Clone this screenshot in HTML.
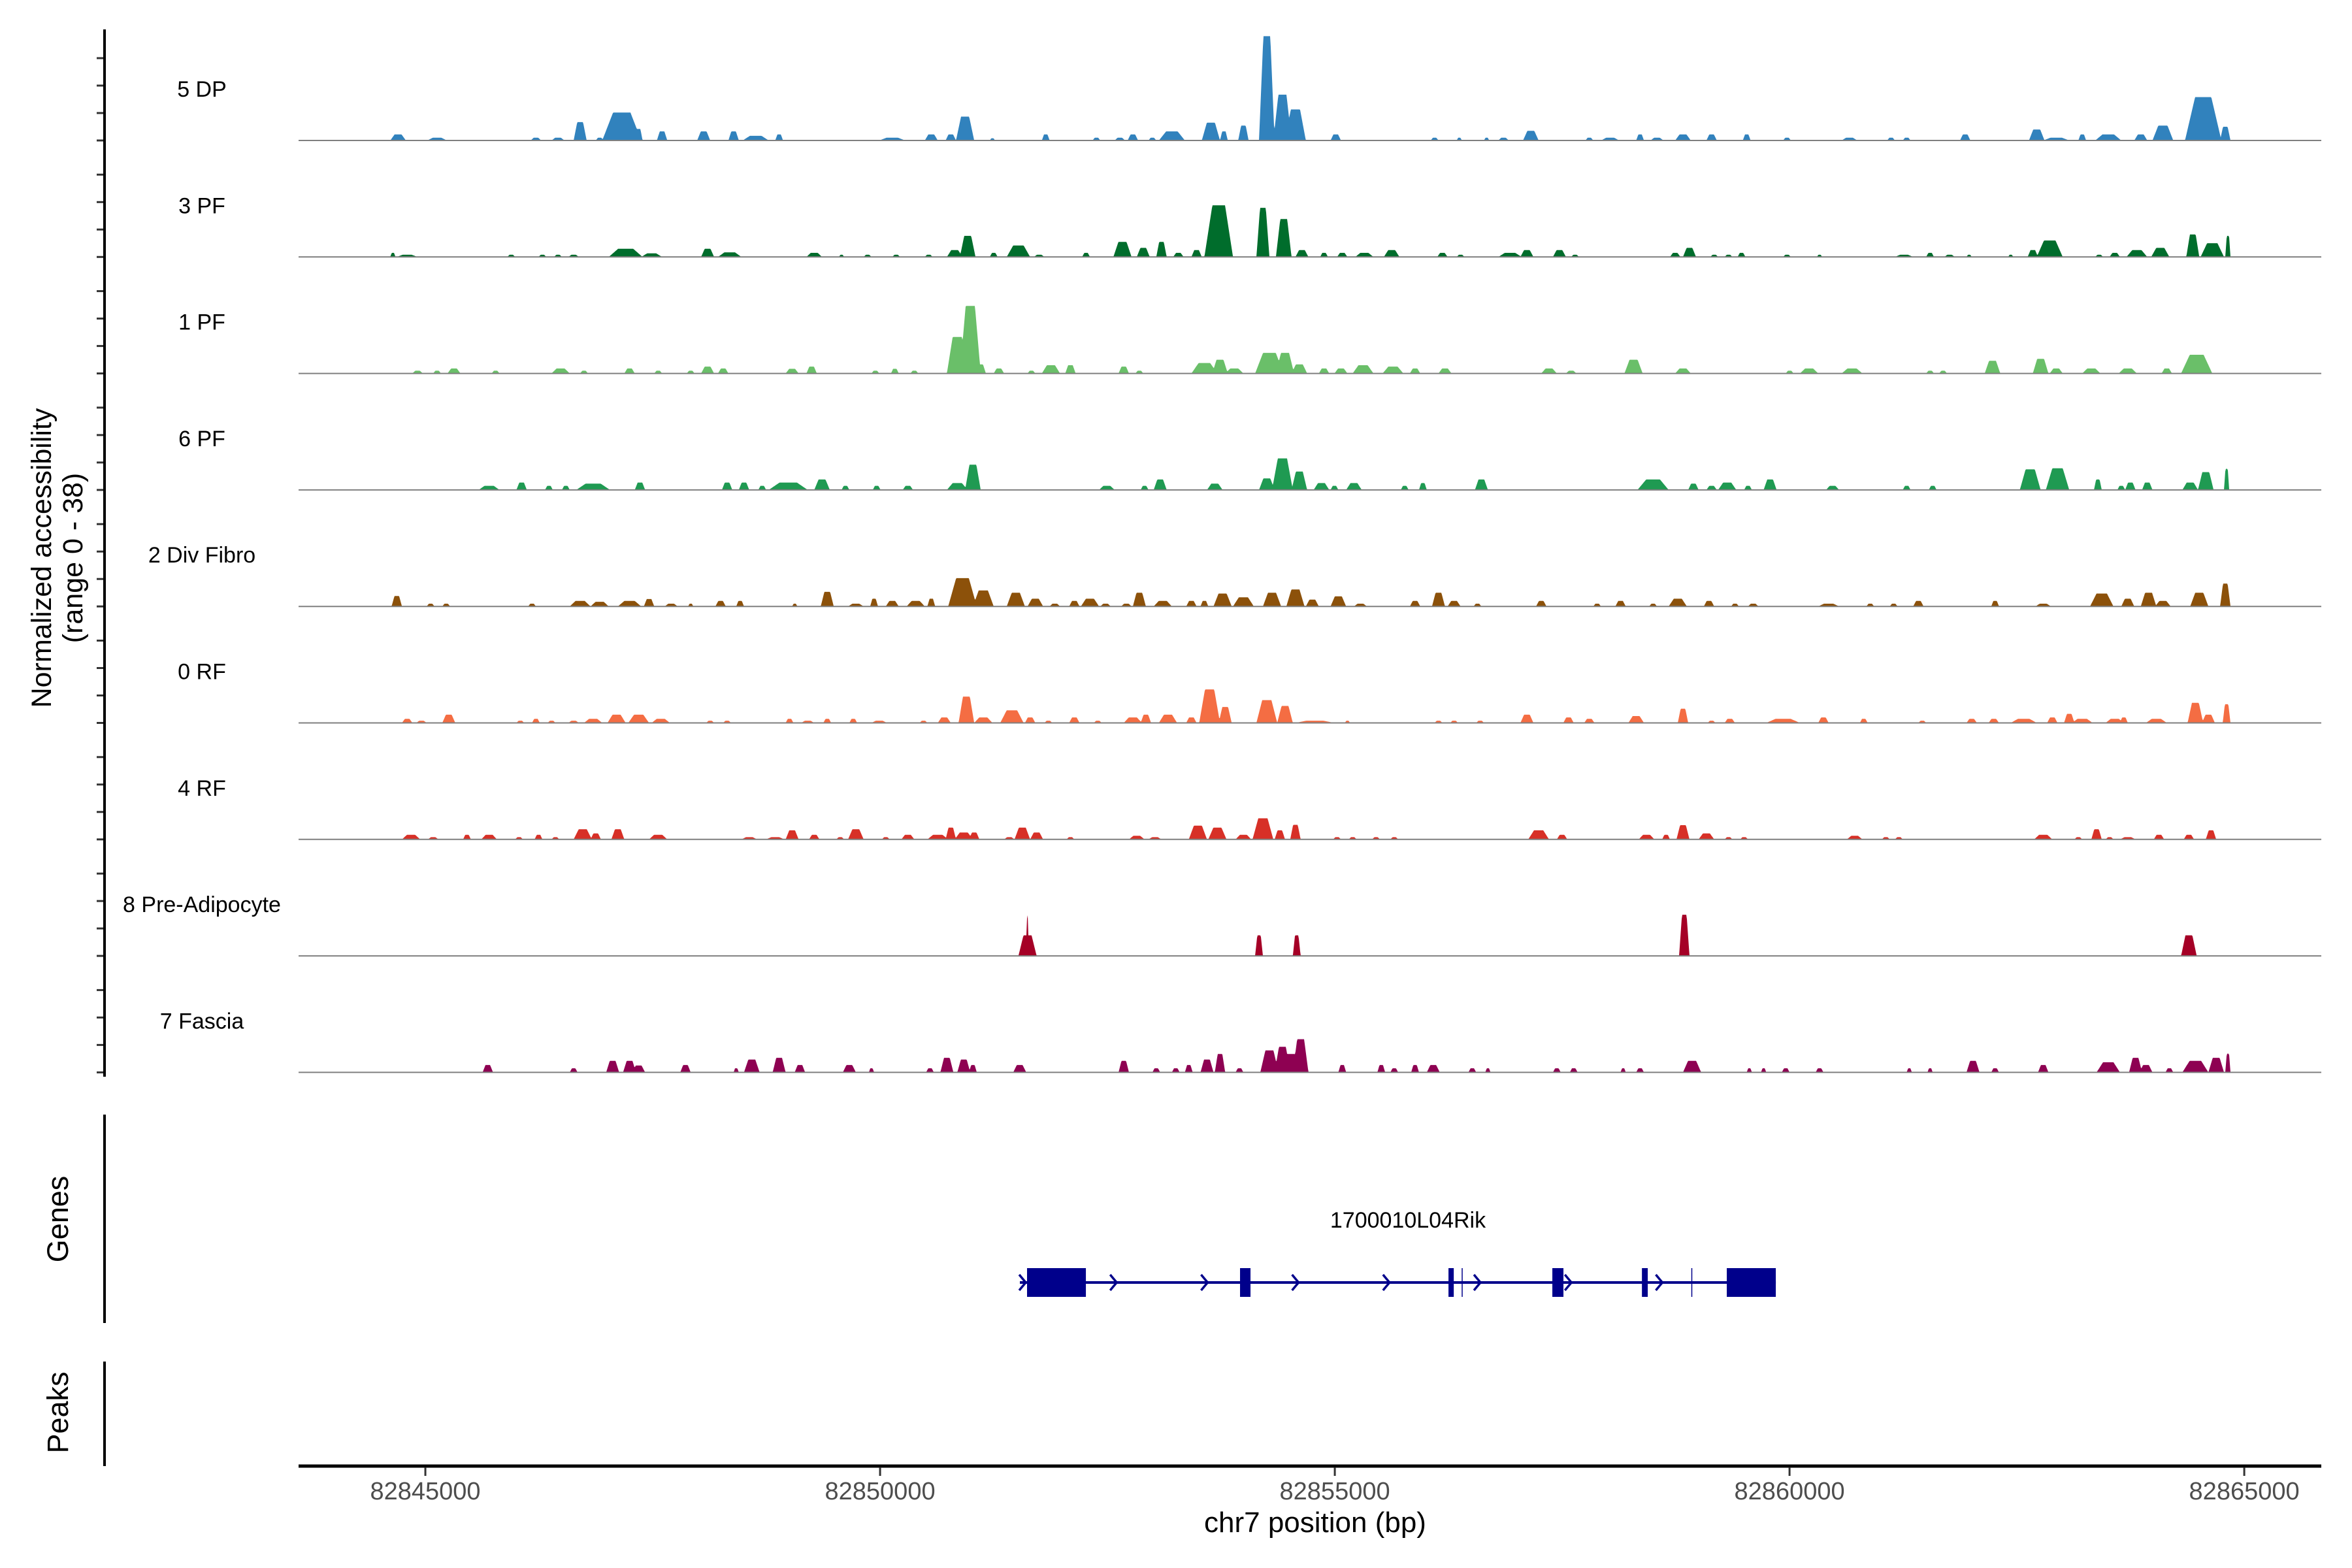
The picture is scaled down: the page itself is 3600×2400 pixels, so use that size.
<!DOCTYPE html>
<html><head><meta charset="utf-8">
<style>
html,body{margin:0;padding:0;background:#fff;}
svg{display:block;font-family:"Liberation Sans",Arial,sans-serif;}
</style></head>
<body>
<svg id="chart" width="3600" height="2400" viewBox="0 0 3600 2400" xmlns="http://www.w3.org/2000/svg">
<rect x="0" y="0" width="3600" height="2400" fill="#fff"/>
<g id="tracks"></g>
<g id="axes"></g>
<g id="genes"></g>
<text x="0" y="0" transform="translate(78,854) rotate(-90)" text-anchor="middle" font-size="43" fill="#000">Normalized accessibility</text>
<text x="0" y="0" transform="translate(126,854) rotate(-90)" text-anchor="middle" font-size="43" fill="#000">(range 0 - 38)</text>
<text x="0" y="0" transform="translate(104,1866) rotate(-90)" text-anchor="middle" font-size="45" fill="#000">Genes</text>
<text x="0" y="0" transform="translate(104,2162) rotate(-90)" text-anchor="middle" font-size="45" fill="#000">Peaks</text>
<text x="2013" y="2345" text-anchor="middle" font-size="44" fill="#000">chr7 position (bp)</text>
<text x="2155" y="1879" text-anchor="middle" font-size="34" fill="#000">1700010L04Rik</text>
</svg>
<script>
// ---- region / axis data ----
const regionStart = 82843556;   // bp at bin 0
const binSize = 14.3;           // bp per coverage bin
const xTicks = [82845000, 82850000, 82855000, 82860000, 82865000];
const xTickLabels = ["82845000", "82850000", "82855000", "82860000", "82865000"];
const yRangeMax = 38;
const yTickValues = [0, 10, 20, 30];
const trackNames = ["5 DP", "3 PF", "1 PF", "6 PF", "2 Div Fibro", "0 RF", "4 RF", "8 Pre-Adipocyte", "7 Fascia"];
const trackColors = ["#3182bd", "#006d2c", "#6abf69", "#1f9a52", "#8c510a", "#f46d43", "#d73027", "#a50026", "#8e0152"];

// ---- coverage peaks per track: bin index, accessibility value, width in bins ----
const dpBins = [80,110,186,203,220,235,252,265,283,315,338,355,373,460,490,505,516,537,578,617,635,645,660,675,705,715,730,748,760,770,801,877,896,917,930,951,996,1012,1035,1048,1068,1090,1117,1148,1196,1228,1240,1285,1340,1355,1375,1395,1420,1437,1468,1485];
const dpVals = [2.2,1,1,1,6.7,1,10.2,4.2,3.3,3.3,3.3,1.7,2.2,1,2.2,2.2,8.7,0.8,2.2,1,1,2.2,1,3.3,6.5,3.3,5.4,38,16.7,11.3,2.2,1,1,1,1,3.5,1,1,2.2,1,2.2,2.2,2.2,1,1,1,1,2.2,4,1,2.2,2.2,2.2,5.4,15.8,5];
const dpWidths = [12,15,8,10,10,6,30,6,8,10,8,20,6,20,10,8,14,4,6,6,8,8,6,20,14,6,8,12,14,16,8,6,4,4,8,12,6,14,6,10,12,8,6,6,12,6,6,8,12,20,6,20,10,16,28,8];

const pf3Bins = [76,87,167,191,203,215,255,275,318,335,400,421,441,463,488,508,518,538,557,573,609,637,653,667,680,694,711,745,761,775,792,806,823,844,883,897,935,948,973,985,1062,1073,1092,1103,1113,1148,1173,1238,1258,1273,1288,1320,1337,1350,1388,1400,1417,1435,1460,1475,1487];
const pf3Vals = [1.5,.8,.8,.8,.8,.8,3,1.3,3,1.7,1.5,.8,.8,.8,.8,2.5,7.7,1.5,4.2,.8,1.5,5.5,3.3,5.5,1.5,2.5,18.8,17.9,13.8,2.5,1.5,1.5,1.5,2.5,1.5,.8,1.5,2.5,2.5,.8,1.5,3.3,.8,.8,1.5,.8,.8,.8,1.5,.8,.8,.8,2.5,6,.8,1.5,2.5,3.3,8.2,5,7.7];
const pf3Widths = [4,16,6,6,6,8,26,16,10,18,12,4,6,6,6,12,12,6,18,8,6,14,10,8,8,8,22,10,12,10,6,8,14,12,8,6,18,10,10,6,8,10,6,6,6,6,4,14,6,8,4,4,8,20,6,8,16,14,10,18,4];

const pf1Bins = [95,110,123,155,205,223,258,280,305,318,330,383,398,447,462,477,510,520,528,542,567,582,597,638,650,700,712,723,750,762,773,792,805,822,845,862,885,965,982,1030,1068,1150,1165,1198,1258,1268,1306,1343,1355,1382,1410,1440,1463];
const pf1Vals = [1,1,1.8,1,1.8,1,1.8,1,1,2.5,1.8,1.7,2.5,1,1.7,1,13.3,24.6,3.3,1.8,1,3,3,2.5,1,3.8,5,1.8,7.5,7.5,3.3,1.8,1.8,3,2.5,1.8,1.8,1.8,1,5,1.8,1,1.8,1.8,1,1,4.6,5.3,1.8,1.8,1.8,1.8,6.8];
const pf1Widths = [8,6,10,6,14,6,8,6,6,10,8,10,8,6,6,6,16,16,8,8,6,14,8,8,6,20,12,14,22,14,12,8,10,16,16,8,10,12,8,14,12,6,14,16,6,6,12,12,10,14,14,8,24];

const pf6Bins = [150,175,196,209,230,266,333,346,360,380,406,424,448,472,510,522,625,654,666,708,748,760,773,790,800,815,854,868,913,1045,1076,1090,1102,1118,1135,1183,1240,1260,1335,1356,1387,1405,1412,1425,1458,1470,1486];
const pf6Vals = [1.5,2.7,1.5,1.5,2.3,2.7,2.7,2.7,1.5,2.7,3.8,1.5,1.5,1.5,2.5,9.2,1.5,1.5,3.8,2.3,4.2,11.5,6.7,2.5,1.5,2.5,1.5,2.5,3.8,3.8,2.3,1.5,2.7,1.5,3.8,1.5,1.5,1.5,7.5,7.9,3.8,1.5,2.7,2.7,2.7,6.5,7.7];
const pf6Widths = [16,8,6,6,26,8,8,8,6,30,12,6,6,8,16,12,12,6,10,12,12,16,12,12,6,12,6,6,10,24,8,8,14,6,10,10,6,6,16,18,6,6,8,8,12,12,4];

const divBins = [79,105,117,183,220,235,258,273,290,305,328,343,385,410,432,446,460,478,490,514,530,555,570,585,600,612,624,640,650,668,690,700,714,730,752,770,783,803,820,862,880,892,910,959,1002,1020,1045,1064,1088,1108,1122,1180,1212,1230,1249,1308,1345,1390,1410,1426,1437,1465,1485];
const divVals = [3.8,1,1,1,2,1.7,2,2.7,1,1,2,2,1,5.3,1,2.8,2,2,2.8,10.3,5.8,5,2.8,1,2,2.8,1,1,5,2,2,2,4.7,3.3,5,6.2,2.5,3.7,1,2,5,2,1,2,1,2,1,2.8,2,1,1,1,1,1,2,2,1,4.7,2.8,5,2,5,8.3];
const divWidths = [8,6,6,6,16,14,18,8,10,4,8,6,4,10,12,6,10,14,6,22,16,14,12,8,8,14,8,8,10,14,8,6,14,16,14,14,10,12,10,8,10,10,6,8,6,8,6,14,8,6,8,16,6,6,8,6,12,18,10,12,12,14,8];

const rf0Bins = [87,98,119,174,186,198,215,230,248,265,282,320,333,381,395,410,430,450,484,500,517,530,552,566,580,600,618,645,655,672,690,704,716,748,762,785,810,880,892,912,948,980,996,1032,1068,1090,1104,1145,1176,1207,1252,1290,1307,1330,1352,1365,1375,1400,1407,1432,1462,1472,1486];
const rf0Vals = [1.5,.8,3,.8,1.5,.8,.8,1.5,3,3,1.5,.8,.8,1.5,.8,1.5,1.5,.8,.8,2,9.6,2,4.6,2,.8,2,.8,2,3,3,2,12.2,5.8,8.3,6.2,.8,.8,.8,.8,.8,3,2,1.5,2.5,5.2,.8,1.5,1.5,2,1.5,.8,1.5,1.5,1.5,2,3.3,1.5,1.5,2,1.5,7.3,3,6.8];
const rf0Widths = [8,8,10,6,6,6,8,14,14,16,14,6,6,6,10,6,6,12,6,10,12,14,18,8,6,8,6,14,8,14,8,16,10,16,12,30,4,6,6,6,10,8,8,12,8,6,8,26,8,6,6,8,8,20,8,8,16,14,6,16,12,10,6];

const rf4Bins = [90,107,133,150,173,188,201,222,232,249,280,350,370,383,400,420,432,455,472,495,505,515,523,550,560,571,597,648,662,695,710,730,745,758,770,802,814,832,846,957,975,1040,1055,1068,1086,1103,1115,1200,1224,1234,1345,1372,1386,1396,1410,1434,1457,1474];
const rf4Vals = [1.7,.8,1.7,1.7,.8,1.7,.8,3.7,2.2,3.7,1.7,.8,.8,3.3,1.7,.8,3.7,.8,1.7,1.7,4.3,2.5,2.5,.8,4.3,2.5,.8,1.3,.8,5,4.3,1.7,7.7,3.3,5.3,.8,.8,.8,.8,3.3,1.7,1.7,1.7,5.2,2.2,.8,.8,1.3,.8,.8,1.7,.8,3.7,.8,.8,1.7,1.7,3.3];
const rf4Widths = [14,8,6,12,6,6,6,14,8,10,14,12,14,10,8,6,12,6,10,16,8,14,8,8,12,10,6,12,10,14,14,12,16,8,8,6,6,6,6,16,8,12,6,10,12,6,6,12,6,6,14,6,8,6,12,8,8,8];

const adipBins = [564,564,742,771,1069,1457];
const adipVals = [7.5,14.8,7.5,7.5,15,7.5];
const adipWidths = [14,1,6,6,8,12];

const fasBins = [149,215,245,258,265,301,340,352,373,389,427,444,489,502,515,522,558,638,663,678,688,702,712,727,750,760,766,774,806,836,846,862,876,906,918,971,984,1022,1035,1075,1119,1130,1147,1173,1242,1258,1291,1308,1345,1395,1416,1424,1442,1462,1478,1487];
const fasVals = [2.7,1.5,4.2,4.2,2.5,2.7,1.5,4.7,5.3,2.7,2.7,1.5,1.5,5.3,4.7,2.7,2.7,4.2,1.5,1.5,2.7,4.7,6.7,1.5,8,9.3,6.7,12.1,2.7,2.7,1.5,2.7,2.7,1.5,1.5,1.5,1.5,1.5,1.5,4.2,1.5,1.5,1.5,1.5,1.5,1.5,4.2,1.5,2.7,3.7,5.3,2.7,1.5,4.2,5.3,6.8];
const fasWidths = [8,6,10,10,10,8,4,12,10,8,10,4,6,10,10,6,10,8,6,6,6,10,8,6,14,12,16,12,6,6,6,6,10,6,4,6,6,4,6,14,4,4,6,6,4,4,10,6,8,18,10,10,6,20,12,4];

// ---- gene model (bp) ----
const geneStart = 82851537;
const geneEnd = 82859849;
const exonStarts = [82851616, 82853958, 82856250, 82856395, 82857392, 82858377, 82858920, 82859310];
const exonEnds   = [82852263, 82854073, 82856308, 82856405, 82857514, 82858441, 82858925, 82859849];
const exonThick  = [1, 1, 1, 0, 1, 1, 0, 1];
const strandArrows = [82851537, 82852537, 82853537, 82854537, 82855537, 82856537, 82857537, 82858537];

const trackBins = [dpBins, pf3Bins, pf1Bins, pf6Bins, divBins, rf0Bins, rf4Bins, adipBins, fasBins];
const trackVals = [dpVals, pf3Vals, pf1Vals, pf6Vals, divVals, rf0Vals, rf4Vals, adipVals, fasVals];
const trackWidths = [dpWidths, pf3Widths, pf1Widths, pf6Widths, divWidths, rf0Widths, rf4Widths, adipWidths, fasWidths];

// ---- layout ----
const NS = "http://www.w3.org/2000/svg";
const plotLeft = 457, plotRight = 3553;
const domainStart = 82843606, domainEnd = 82865847;
const firstBaseline = 215, trackStep = 178.3, pxPerUnit = 4.2;
function xScale(bp){ return plotLeft + (bp - domainStart) / (domainEnd - domainStart) * (plotRight - plotLeft); }
function binToBp(b){ return regionStart + b * binSize; }
function yScale(track, v){ return firstBaseline + track * trackStep - v * pxPerUnit; }
function mk(tag, attrs){ const e = document.createElementNS(NS, tag); for (const k in attrs) e.setAttribute(k, attrs[k]); return e; }

const tracksG = document.getElementById('tracks');
const axesG = document.getElementById('axes');
const genesG = document.getElementById('genes');

for (let t = 0; t < trackNames.length; t++) {
  const bins = trackBins[t], vals = trackVals[t], wids = trackWidths[t];
  const peaks = [];
  for (let i = 0; i < bins.length; i++) {
    const c = xScale(binToBp(bins[i]));
    const h = Math.max((xScale(binToBp(bins[i] + (wids[i] || 4))) - xScale(binToBp(bins[i]))) / 2, 1.5);
    peaks.push([c, h, Math.min(vals[i] || 0, yRangeMax)]);
  }
  const base = yScale(t, 0);
  let d = "M" + plotLeft + "," + base;
  for (let x = plotLeft; x <= plotRight; x += 1) {
    let v = 0;
    for (const p of peaks) {
      const tt = 1 - Math.abs(x - p[0]) / p[1];
      if (tt > 0) v = Math.max(v, p[2] * Math.min(1, tt * 1.8));
    }
    d += " L" + x + "," + (base - v * pxPerUnit).toFixed(1);
  }
  d += " L" + plotRight + "," + base + " Z";
  const area = mk('path', {d: d, fill: trackColors[t]});
  
  
  tracksG.appendChild(area);
  const bl = mk('line', {x1: plotLeft, x2: plotRight, y1: base, y2: base, stroke: '#7f7f7f', 'stroke-width': 2});
  
  
  tracksG.appendChild(bl);
  const lab = mk('text', {x: 309, y: base - 67, 'text-anchor': 'middle', 'font-size': 34, fill: '#000'});
  lab.textContent = trackNames[t];
  
  
  tracksG.appendChild(lab);
  for (const tv of yTickValues) {
    const ty = yScale(t, tv);
    const tk = mk('line', {x1: 148, x2: 160, y1: ty, y2: ty, stroke: '#333', 'stroke-width': 3});
    
    
    axesG.appendChild(tk);
  }
}

// y axis segments
[[45, 1648, 'y-axis-line'], [1706, 2025, 'genes-axis-line'], [2084, 2244, 'peaks-axis-line']].forEach(s => {
  const l = mk('line', {x1: 160, x2: 160, y1: s[0], y2: s[1], stroke: '#000', 'stroke-width': 4});
  
  
  axesG.appendChild(l);
});

// x axis
const xa = mk('line', {x1: plotLeft, x2: plotRight, y1: 2244, y2: 2244, stroke: '#000', 'stroke-width': 5});


axesG.appendChild(xa);
xTicks.forEach((v, i) => {
  const x = xScale(v);
  const tk = mk('line', {x1: x, x2: x, y1: 2246, y2: 2259, stroke: '#333', 'stroke-width': 3});
  
  
  axesG.appendChild(tk);
  const tl = mk('text', {x: x, y: 2295, 'text-anchor': 'middle', 'font-size': 38, fill: '#4d4d4d'});
  tl.textContent = xTickLabels[i];
  
  
  axesG.appendChild(tl);
});

// gene model
const gy = 1963;
const gl = mk('line', {x1: xScale(geneStart), x2: xScale(geneEnd), y1: gy, y2: gy, stroke: '#00008b', 'stroke-width': 4});


genesG.appendChild(gl);
for (let i = 0; i < exonStarts.length; i++) {
  const x1 = xScale(exonStarts[i]), x2 = xScale(exonEnds[i]);
  const ex = mk('rect', {x: x1, y: 1941, width: exonThick[i] ? Math.max(x2 - x1, 2) : 1.5, height: 44, fill: '#00008b'});
  
  
  genesG.appendChild(ex);
}
strandArrows.forEach(bp => {
  const x = xScale(bp) + 4;
  const ar = mk('path', {d: 'M' + (x - 5) + ',' + (gy - 12) + ' L' + (x + 5) + ',' + gy + ' L' + (x - 5) + ',' + (gy + 12), fill: 'none', stroke: '#00008b', 'stroke-width': 3.5});
  
  
  genesG.appendChild(ar);
});
</script>
</body></html>
